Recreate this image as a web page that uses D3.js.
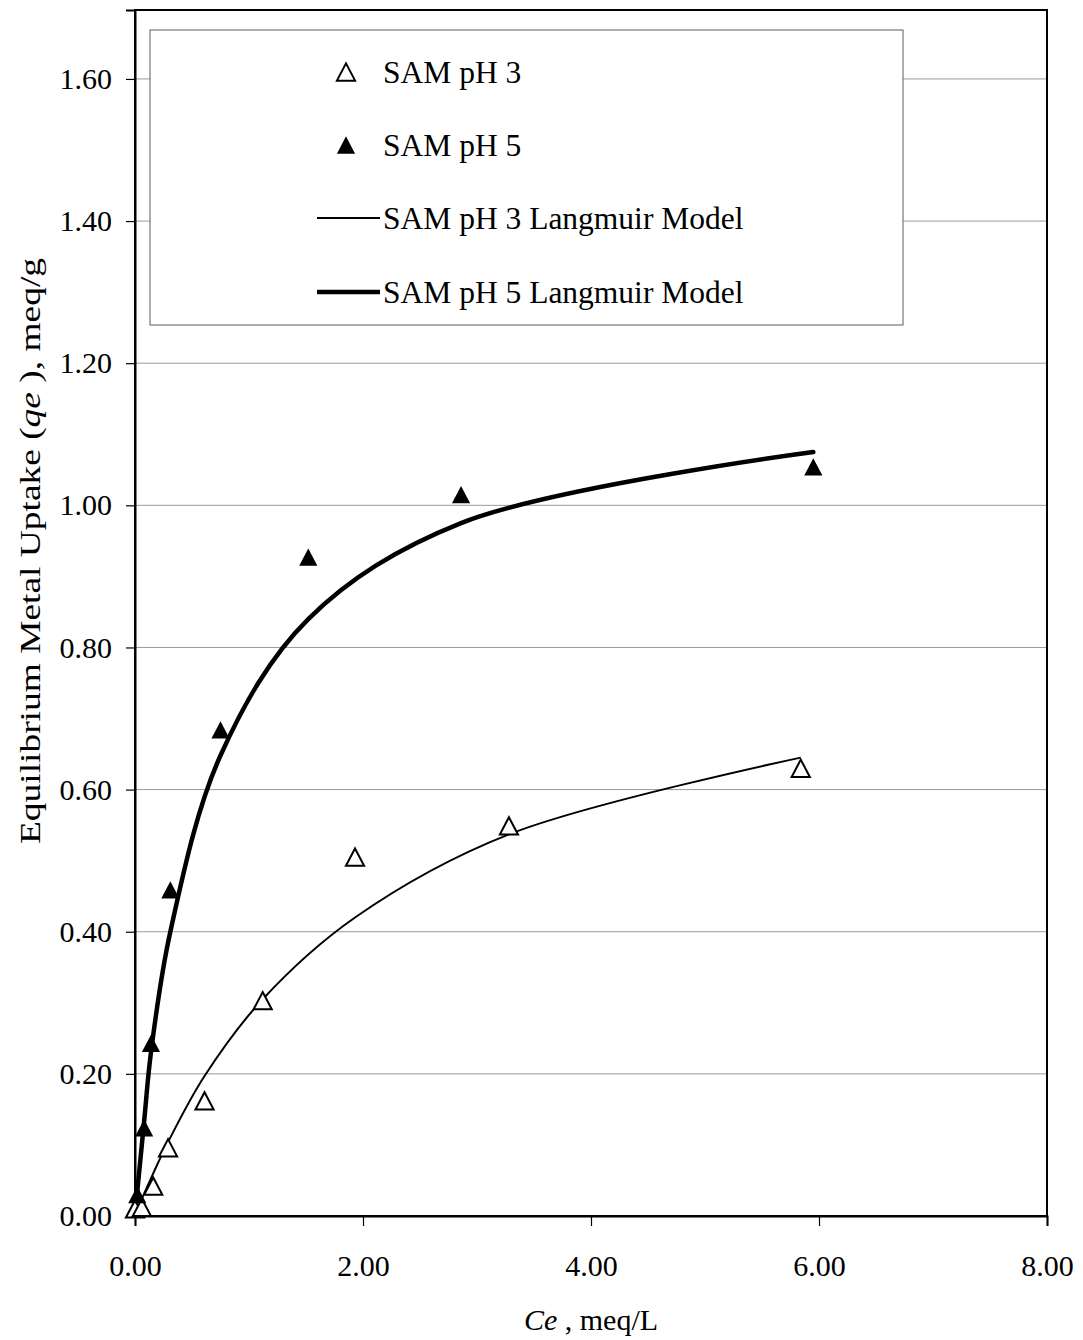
<!DOCTYPE html>
<html>
<head>
<meta charset="utf-8">
<script src="https://cdn.jsdelivr.net/npm/d3@7"></script>
<style>
  body { margin: 0; background: #fff; }
  text { font-family: "Liberation Serif", "Times New Roman", serif; fill: #000; }
</style>
</head>
<body>
<div id="chart"></div>
<script>
// data
var ph3Ce = [0.00, 0.06, 0.16, 0.29, 0.61, 1.12, 1.93, 3.28, 5.84];
var ph3Qe = [0.010, 0.012, 0.042, 0.096, 0.162, 0.303, 0.505, 0.549, 0.630];
var ph3ModelQe = [0.000, 0.024, 0.060, 0.104, 0.197, 0.305, 0.420, 0.537, 0.645];

var ph5Ce = [0.02, 0.08, 0.14, 0.31, 0.75, 1.52, 2.86, 5.95];
var ph5Qe = [0.030, 0.124, 0.243, 0.459, 0.684, 0.927, 1.015, 1.054];
var ph5ModelQe = [0.035, 0.133, 0.230, 0.400, 0.648, 0.840, 0.975, 1.075];

var xTicks = [0, 2, 4, 6, 8];
var yTicks = [0, 0.2, 0.4, 0.6, 0.8, 1.0, 1.2, 1.4, 1.6];

var legendLabels = ["SAM pH 3", "SAM pH 5", "SAM pH 3 Langmuir Model", "SAM pH 5 Langmuir Model"];

function pairs(xs, ys) {
    return xs.map(function (d, i) { return {x: d, y: ys[i]}; });
}

var W = 1083, H = 1340;
var margin = {top: 10, right: 36, bottom: 124, left: 135};
var width = W - margin.left - margin.right;
var height = H - margin.top - margin.bottom;

var svg = d3.select("#chart")
    .append("svg")
    .attr("width", W)
    .attr("height", H)
    .append("g")
    .attr("transform", "translate(" + margin.left + "," + margin.top + ")");

var x = d3.scaleLinear().domain([0, 8]).range([0, width]);
var y = d3.scaleLinear().domain([0, 1.697]).range([height, 0]);

// grid lines
svg.append("g")
    .selectAll("line")
    .data(yTicks.filter(function (d) { return d > 0; }))
    .enter()
    .append("line")
    .attr("x1", 0)
    .attr("x2", width)
    .attr("y1", function (d) { return y(d); })
    .attr("y2", function (d) { return y(d); })
    .attr("stroke", "#9a9a9a")
    .attr("stroke-width", 1);

// frame
svg.append("rect")
    .attr("x", 0).attr("y", 0)
    .attr("width", width).attr("height", height)
    .attr("fill", "none")
    .attr("stroke", "#000")
    .attr("stroke-width", 2);

// axes
var yAxis = svg.append("g")
    .call(d3.axisLeft(y).tickValues(yTicks).tickSize(9).tickPadding(14)
        .tickFormat(d3.format(".2f")));
var xAxis = svg.append("g")
    .attr("transform", "translate(0," + height + ")")
    .call(d3.axisBottom(x).tickValues(xTicks).tickSize(10).tickPadding(29)
        .tickFormat(d3.format(".2f")));

[xAxis, yAxis].forEach(function (a) {
    a.select(".domain").attr("stroke-width", 2);
    a.selectAll(".tick line").attr("stroke", "#000").attr("stroke-width", 1.2);
    a.selectAll("text")
        .style("font-family", "'Liberation Serif', serif")
        .style("font-size", "30px");
});

// legend box (drawn before the data, over the grid)
var lg = svg.append("g").attr("transform", "translate(" + (150 - margin.left) + "," + (30 - margin.top) + ")");
lg.append("rect")
    .attr("width", 753).attr("height", 295)
    .attr("fill", "#fff")
    .attr("stroke", "#777")
    .attr("stroke-width", 1.2);

// triangle symbol, a bit taller than equilateral like the picture
var tri = {
    draw: function (ctx, size) {
        var w = Math.sqrt(size) * 1.05;
        var h = w * 0.95;
        ctx.moveTo(0, -h / 2);
        ctx.lineTo(w / 2, h / 2);
        ctx.lineTo(-w / 2, h / 2);
        ctx.closePath();
    }
};
var sym = d3.symbol().type(tri).size(300);

var line = d3.line()
    .x(function (d) { return x(d.x); })
    .y(function (d) { return y(d.y); })
    .curve(d3.curveCatmullRom.alpha(0.5));

svg.append("path")
    .datum(pairs(ph3Ce, ph3ModelQe))
    .attr("d", line)
    .attr("fill", "none")
    .attr("stroke", "#000")
    .attr("stroke-width", 2);

svg.append("path")
    .datum(pairs(ph5Ce, ph5ModelQe))
    .attr("d", line)
    .attr("fill", "none")
    .attr("stroke", "#000")
    .attr("stroke-width", 4.5)
    .attr("stroke-linecap", "round");

svg.append("g")
    .selectAll("path")
    .data(pairs(ph3Ce, ph3Qe))
    .enter()
    .append("path")
    .attr("d", sym)
    .attr("transform", function (d) { return "translate(" + x(d.x) + "," + y(d.y) + ")"; })
    .attr("fill", "#fff")
    .attr("stroke", "#000")
    .attr("stroke-width", 2);

svg.append("g")
    .selectAll("path")
    .data(pairs(ph5Ce, ph5Qe))
    .enter()
    .append("path")
    .attr("d", sym)
    .attr("transform", function (d) { return "translate(" + x(d.x) + "," + y(d.y) + ")"; })
    .attr("fill", "#000");

// legend entries
var rowY = [42, 115, 188, 262];
var items = lg.selectAll(".item")
    .data(legendLabels)
    .enter()
    .append("g")
    .attr("transform", function (d, i) { return "translate(0," + rowY[i] + ")"; });

items.append("text")
    .attr("x", 233)
    .attr("dy", "0.35em")
    .style("font-size", "31.5px")
    .text(function (d) { return d; });

items.filter(function (d, i) { return i === 0; })
    .append("path").attr("d", sym)
    .attr("transform", "translate(196,0)")
    .attr("fill", "#fff").attr("stroke", "#000").attr("stroke-width", 2);
items.filter(function (d, i) { return i === 1; })
    .append("path").attr("d", sym)
    .attr("transform", "translate(196,0)")
    .attr("fill", "#000");
items.filter(function (d, i) { return i >= 2; })
    .append("line")
    .attr("x1", 167).attr("x2", 230)
    .attr("stroke", "#000")
    .attr("stroke-width", function (d, i) { return i === 0 ? 2 : 4.5; });

// axis titles
var yt = svg.append("text")
    .attr("transform", "translate(" + (40 - margin.left) + "," + (551 - margin.top) + ") rotate(-90)")
    .attr("text-anchor", "middle")
    .attr("textLength", 586)
    .attr("lengthAdjust", "spacingAndGlyphs")
    .style("font-size", "30px");
yt.append("tspan").text("Equilibrium Metal Uptake (");
yt.append("tspan").style("font-style", "italic").text("qe");
yt.append("tspan").text(" ), meq/g");

var xt = svg.append("text")
    .attr("x", x(4))
    .attr("y", 1330 - margin.top)
    .attr("text-anchor", "middle")
    .style("font-size", "30px");
xt.append("tspan").style("font-style", "italic").text("Ce");
xt.append("tspan").text(" , meq/L");
</script>
</body>
</html>
